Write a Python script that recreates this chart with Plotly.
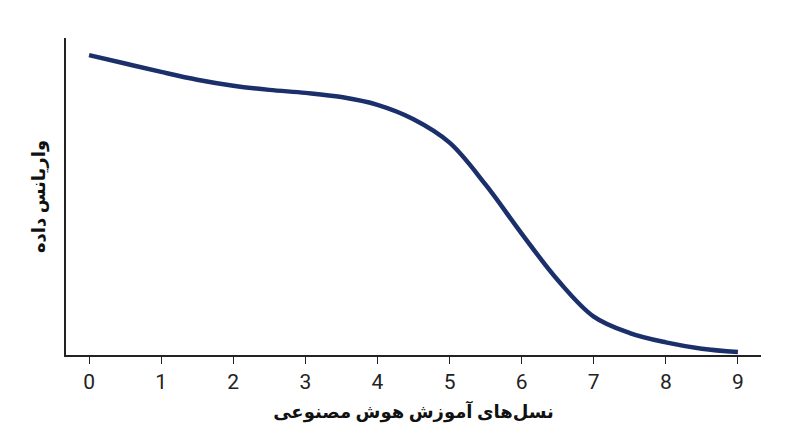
import plotly.graph_objects as go

# نسل‌ها و واریانس تقریبی (خوانده‌شده از تصویر، مقیاس نسبی)
generations = [0, 0.5, 1, 1.5, 2, 2.5, 3, 3.5, 4, 4.5, 5, 5.5, 6, 6.5, 7, 7.5, 8, 8.5, 9]
variance = [1.0, 0.972, 0.944, 0.918, 0.898, 0.884, 0.874, 0.860, 0.834, 0.786,
            0.708, 0.568, 0.405, 0.250, 0.128, 0.073, 0.042, 0.021, 0.010]
tick_vals = list(range(10))

LINE_COLOR = "#1b2f6b"
FONT = "Roboto, DejaVu Sans, sans-serif"

fig = go.Figure()
fig.add_trace(go.Scatter(
    x=generations,
    y=variance,
    mode="lines",
    line=dict(color=LINE_COLOR, width=4.5, shape="spline", smoothing=1.0),
    hoverinfo="skip",
))

# the page body has an 8px margin, so the figure is a little smaller
fig.update_layout(
    width=792,
    height=439,
    plot_bgcolor="white",
    paper_bgcolor="white",
    showlegend=False,
    margin=dict(l=58, r=39, t=30, b=92),
    font=dict(family=FONT, color="#111111"),
)
fig.update_xaxes(
    automargin=False,
    range=[-0.32, 9.32],
    tickvals=tick_vals,
    ticks="outside",
    ticklen=7,
    tickwidth=1.3,
    tickcolor="#222222",
    showline=True,
    linecolor="#222222",
    linewidth=1.5,
    showgrid=False,
    zeroline=False,
    tickfont=dict(size=21, family=FONT, color="#222222"),
    title=dict(text="<b>نسل‌های آموزش هوش مصنوعی</b>",
               font=dict(size=18, family=FONT, color="#111111"), standoff=12),
)
fig.update_yaxes(
    automargin=False,
    range=[0, 1.057],
    showticklabels=False,
    ticks="",
    showline=True,
    linecolor="#222222",
    linewidth=1.5,
    showgrid=False,
    zeroline=False,
    title=dict(text="<b>واریانس داده</b>",
               font=dict(size=18, family=FONT, color="#111111"), standoff=14),
)

fig.write_html("out.html")
